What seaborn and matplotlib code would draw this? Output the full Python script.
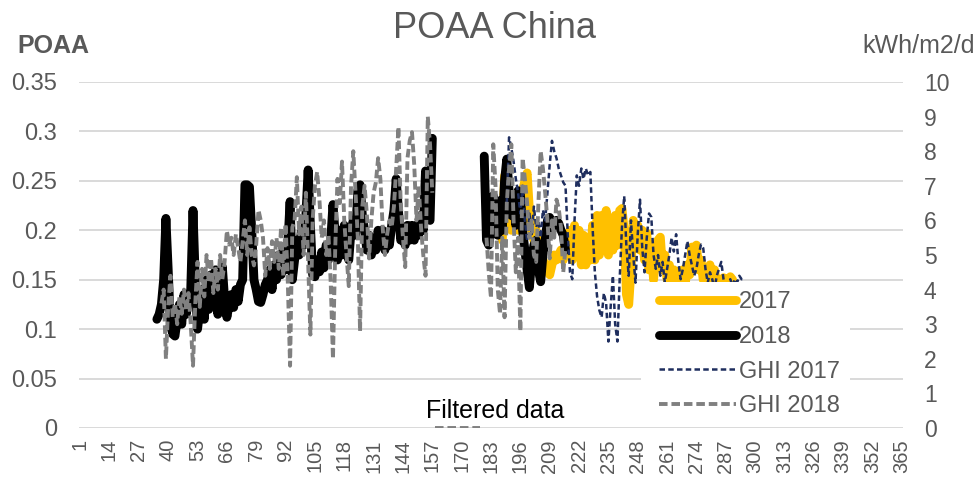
import matplotlib
matplotlib.use("Agg")
import numpy as np
import pandas as pd
import seaborn as sns
import matplotlib.pyplot as plt
from matplotlib.lines import Line2D
from matplotlib.patches import Rectangle

sns.set_theme(style="white")
plt.rcParams['font.family'] = ['Liberation Sans', 'DejaVu Sans']

# ---------------- data ----------------
TITLE = "POAA China"
LEFT_LABEL = "POAA"
RIGHT_LABEL = "kWh/m2/d"
NOTE = "Filtered data"
SERIES_NAMES = ["2017", "2018", "GHI 2017", "GHI 2018"]
X_TICKS = [1, 14, 27, 40, 53, 66, 79, 92, 105, 118, 131, 144, 157, 170, 183,
           196, 209, 222, 235, 248, 261, 274, 287, 300, 313, 326, 339, 352, 365]
LEFT_TICKS = [0, 0.05, 0.1, 0.15, 0.2, 0.25, 0.3, 0.35]
LEFT_TICK_LABELS = ["0", "0.05", "0.1", "0.15", "0.2", "0.25", "0.3", "0.35"]
RIGHT_TICKS = [0, 1, 2, 3, 4, 5, 6, 7, 8, 9, 10]

POAA_2018_A_START = 35
POAA_2018_A = [
    0.110, 0.115, 0.125, 0.150, 0.212, 0.160, 0.105, 0.095, 0.093, 0.110,
    0.125, 0.105, 0.135, 0.115, 0.130, 0.140, 0.220, 0.150, 0.100, 0.120,
    0.140, 0.110, 0.150, 0.120, 0.155, 0.125, 0.160, 0.115, 0.150, 0.163,
    0.130, 0.112, 0.125, 0.135, 0.122, 0.140, 0.128, 0.145, 0.150, 0.246,
    0.246, 0.244, 0.200, 0.150, 0.140, 0.128, 0.127, 0.135, 0.145, 0.150,
    0.160, 0.140, 0.165, 0.150, 0.175, 0.155, 0.180, 0.160, 0.185, 0.229,
    0.150, 0.170, 0.190, 0.175, 0.200, 0.185, 0.215, 0.261, 0.205, 0.155,
    0.153, 0.170, 0.158, 0.178, 0.162, 0.185, 0.170, 0.190, 0.226, 0.195,
    0.170, 0.200, 0.175, 0.205, 0.180, 0.170, 0.200, 0.210, 0.195, 0.240,
    0.246, 0.215, 0.200, 0.180, 0.195, 0.175, 0.190, 0.180, 0.200, 0.185,
    0.200, 0.180, 0.195, 0.185, 0.205, 0.220, 0.252, 0.220, 0.190, 0.195,
    0.185, 0.205, 0.190, 0.205, 0.190, 0.205, 0.195, 0.215, 0.200, 0.260,
    0.215, 0.210, 0.293,
]
POAA_2018_B_START = 180
POAA_2018_B = [
    0.275, 0.190, 0.185, 0.200, 0.235, 0.210, 0.195, 0.230, 0.200, 0.250,
    0.272, 0.240, 0.215, 0.230, 0.205, 0.240, 0.238, 0.200, 0.180, 0.160,
    0.142, 0.170, 0.185, 0.190, 0.160, 0.148, 0.175, 0.190, 0.210, 0.213,
    0.200, 0.205, 0.210, 0.207, 0.200, 0.195, 0.180,
]
POAA_2017_START = 188
POAA_2017 = [
    0.190, 0.255, 0.250, 0.220, 0.200, 0.210, 0.230, 0.200, 0.220, 0.240,
    0.250, 0.258, 0.220, 0.200, 0.190, 0.200, 0.180, 0.175, 0.170, 0.165,
    0.160, 0.155, 0.165, 0.175, 0.170, 0.175, 0.180, 0.170, 0.180, 0.195,
    0.200, 0.170, 0.205, 0.175, 0.200, 0.165, 0.195, 0.165, 0.190, 0.170,
    0.205, 0.170, 0.215, 0.175, 0.215, 0.180, 0.220, 0.175, 0.210, 0.180,
    0.215, 0.185, 0.220, 0.222, 0.200, 0.135, 0.125, 0.160, 0.210, 0.190,
    0.205, 0.180, 0.200, 0.170, 0.197, 0.160, 0.185, 0.150, 0.175, 0.190,
    0.193, 0.160, 0.175, 0.150, 0.165, 0.145, 0.160, 0.150, 0.158, 0.145,
    0.160, 0.145, 0.165, 0.155, 0.183, 0.165, 0.185, 0.160, 0.170, 0.150,
    0.160, 0.145, 0.165, 0.150, 0.160, 0.145, 0.150, 0.140, 0.152, 0.145,
    0.150, 0.153, 0.150,
]
GHI_2017_START = 190
GHI_2017 = [
    6.5, 8.4, 8.1, 7.7, 7.2, 6.8, 6.2, 7.0, 6.0, 5.4,
    6.2, 5.6, 6.4, 5.8, 6.0, 5.5, 6.3, 6.0, 6.8, 7.6,
    8.3, 8.0, 7.8, 7.5, 7.3, 7.1, 7.0, 5.6, 4.5, 4.3,
    6.0, 7.3, 7.0, 7.5, 7.2, 7.5, 7.3, 7.4, 5.8, 4.5,
    3.8, 3.4, 3.2, 3.9, 3.6, 2.5, 3.5, 4.4, 3.0, 2.5,
    4.3, 5.8, 6.7, 5.2, 4.4, 6.0, 5.0, 4.2, 5.6, 6.6,
    5.2, 4.5, 5.5, 6.2, 6.1, 5.0, 4.6, 5.0, 4.4, 4.8,
    4.2, 4.6, 5.0, 5.5, 5.1, 5.6, 4.8, 4.3, 4.6, 5.0,
    5.4, 5.0, 4.7, 4.4, 4.6, 5.0, 5.3, 5.2, 4.6, 4.2,
    4.5, 4.3, 4.0, 4.4, 4.6, 4.8, 4.3, 4.0, 4.2, 4.3,
    4.1, 4.3, 4.2, 4.4, 4.3, 4.3,
]
GHI_2018_A_START = 37
GHI_2018_A = [
    3.6, 4.0, 2.0, 3.5, 4.4, 3.2, 3.6, 3.0, 3.8, 3.3,
    4.0, 3.4, 3.9, 3.0, 1.8, 3.6, 4.8, 3.5, 4.6, 3.8,
    5.0, 4.2, 4.9, 3.9, 4.6, 4.0, 5.0, 4.3, 4.8, 5.7,
    5.3, 5.5, 5.0, 5.6, 5.2, 4.8, 5.4, 6.0, 5.0, 5.8,
    5.0, 4.7, 5.3, 6.3, 6.0, 5.5, 4.4, 5.2, 4.6, 5.4,
    4.8, 5.5, 4.6, 5.8, 4.4, 5.9, 4.2, 1.8, 5.8, 6.0,
    7.25, 5.6, 6.4, 5.0, 6.8, 4.8, 2.7, 6.0, 7.0, 7.4,
    6.6, 5.5, 6.0, 5.0, 5.6, 4.2, 2.0, 5.2, 7.2, 6.5,
    7.7, 6.0, 5.0, 4.1, 7.0, 8.0, 6.8, 5.5, 2.8, 6.4,
    7.0, 6.2, 4.9, 6.0, 6.8, 7.1, 7.8, 7.2, 5.8, 5.0,
    5.6, 6.0, 5.8, 6.4, 7.5, 8.7, 6.5, 5.5, 4.65, 7.8,
    8.3, 8.55, 7.6, 6.0, 7.0, 5.8, 5.0, 4.4, 9.0, 8.2,
    6.8,
]
GHI_2018_B_START = 181
GHI_2018_B = [
    5.5, 4.5, 3.75, 8.2, 7.0, 4.0, 3.3, 5.5, 3.2, 6.5,
    7.5, 8.2, 6.0, 4.5, 5.5, 2.8, 7.8, 7.2, 6.5, 5.5,
    6.0, 5.0, 4.8, 6.5, 8.0, 7.5, 6.8, 6.0, 4.9, 6.0,
    5.5, 6.6, 6.35, 5.8, 4.5, 5.2,
]
GHI_2018_FILTERED_START = 158
GHI_2018_FILTERED = [
    0, 0, 0, 0, 0, 0, 0, 0, 0, 0,
    0, 0, 0, 0, 0, 0, 0, 0, 0, 0, 0,
]


def frame(*segments):
    rows = []
    for seg_id, (start, values) in enumerate(segments):
        for i, v in enumerate(values):
            rows.append({"day": start + i, "value": v, "seg": seg_id})
    return pd.DataFrame(rows)


df_2017 = frame((POAA_2017_START, POAA_2017))
df_2018 = frame((POAA_2018_A_START, POAA_2018_A), (POAA_2018_B_START, POAA_2018_B))
df_ghi17 = frame((GHI_2017_START, GHI_2017))
df_ghi18 = frame((GHI_2018_A_START, GHI_2018_A), (GHI_2018_B_START, GHI_2018_B),
                 (GHI_2018_FILTERED_START, GHI_2018_FILTERED))

# ---------------- styles ----------------
C17 = "#FFC000"
C18 = "#000000"
CG17 = "#1F2E5E"
CG18 = "#808080"
TXT = "#595959"
GRID = "#D9D9D9"
LS_G17 = (0, (2.2, 1.3))
LS_G18 = (0, (2.2, 1.0))
LW_THICK = 6.4
LW_G17 = 1.8
LW_G18 = 2.8

W, H = 977, 487
fig = plt.figure(figsize=(W / 100, H / 100), dpi=100)
ax = fig.add_axes([79 / W, 1 - 428 / H, (903 - 79) / W, (428 - 82) / H])
ax2 = ax.twinx()

thick = dict(linewidth=LW_THICK, solid_capstyle="round", solid_joinstyle="round")
sns.lineplot(data=df_2017, x="day", y="value", units="seg", estimator=None,
             ax=ax, color=C17, **thick)
sns.lineplot(data=df_2018, x="day", y="value", units="seg", estimator=None,
             ax=ax, color=C18, **thick)
sns.lineplot(data=df_ghi17, x="day", y="value", units="seg", estimator=None,
             ax=ax2, color=CG17, linewidth=LW_G17, linestyle=LS_G17)
sns.lineplot(data=df_ghi18, x="day", y="value", units="seg", estimator=None,
             ax=ax2, color=CG18, linewidth=LW_G18, linestyle=LS_G18)

for a in (ax, ax2):
    a.set_xlabel("")
    a.set_ylabel("")
    for s in a.spines.values():
        s.set_visible(False)
    a.set_xlim(0.5, 365.5)

ax.set_ylim(0, 0.35)
ax2.set_ylim(0, 10)
ax.set_axisbelow(True)
ax.yaxis.grid(True, color=GRID, linewidth=1.4)
ax.xaxis.grid(False)
ax2.grid(False)

ax.set_xticks(X_TICKS)
ax.set_xticklabels([str(t) for t in X_TICKS], rotation=90)
ax.set_yticks(LEFT_TICKS)
ax.set_yticklabels(LEFT_TICK_LABELS)
ax2.set_yticks(RIGHT_TICKS)
ax2.set_yticklabels([str(t) for t in RIGHT_TICKS])

ax.tick_params(axis="x", length=0, pad=8, labelsize=14.5, labelcolor=TXT)
ax.tick_params(axis="y", length=0, pad=16, labelsize=17, labelcolor=TXT)
ax2.tick_params(axis="y", length=0, pad=15, labelsize=16.5, labelcolor=TXT)

# texts
fig.text(495 / W, 1 - 38 / H, TITLE, ha="center", va="baseline",
         fontsize=26, color=TXT)
fig.text(17 / W, 1 - 53 / H, LEFT_LABEL, ha="left", va="baseline",
         fontsize=18, fontweight="bold", color=TXT)
fig.text(975 / W, 1 - 53 / H, RIGHT_LABEL, ha="right", va="baseline",
         fontsize=18, color=TXT)
fig.text(495 / W, 1 - 418 / H, NOTE, ha="center", va="baseline",
         fontsize=18, color="black")

# legend with white background box
ax2.add_patch(Rectangle((0.682, 0.023), 0.254, 0.399, transform=ax2.transAxes,
                        facecolor="white", edgecolor="none", zorder=5))
handles = [
    Line2D([0], [0], color=C17, linewidth=LW_THICK, solid_capstyle="round"),
    Line2D([0], [0], color=C18, linewidth=LW_THICK, solid_capstyle="round"),
    Line2D([0], [0], color=CG17, linewidth=LW_G17, linestyle=LS_G17),
    Line2D([0], [0], color=CG18, linewidth=LW_G18, linestyle=LS_G18),
]
leg = ax2.legend(handles, SERIES_NAMES, loc="upper left",
                 bbox_to_anchor=(0.678, 0.456), frameon=False, fontsize=17,
                 handlelength=3.26, handletextpad=0.13, labelspacing=0.53,
                 borderpad=0.4, labelcolor=TXT)
leg.set_zorder(6)

fig.savefig("out.png", dpi=100)
